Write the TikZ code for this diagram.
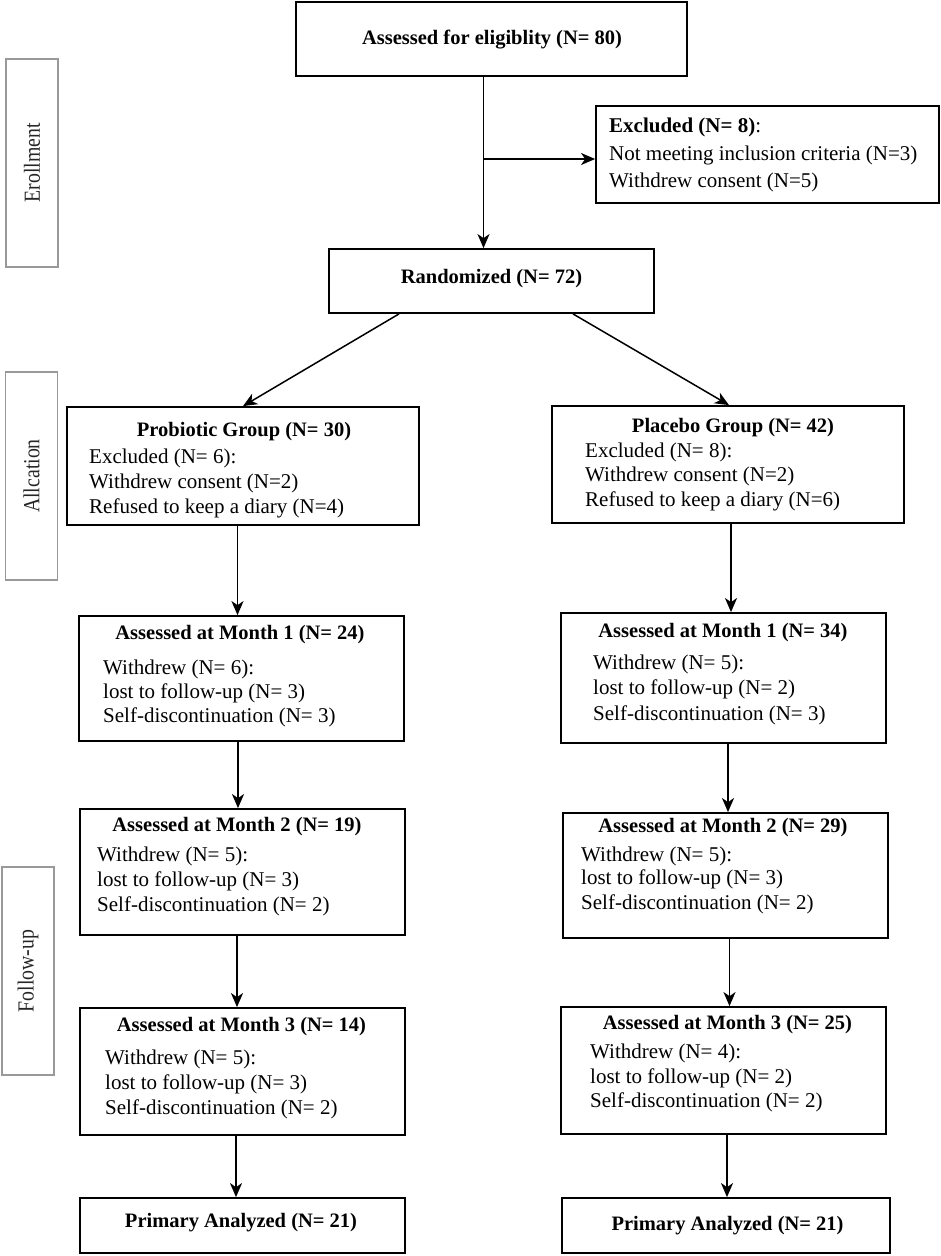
\documentclass[tikz,border=0pt]{standalone}
\usepackage{fontspec}
\setmainfont{Liberation Serif}
\usetikzlibrary{arrows.meta}
\newcommand{\sidelab}[1]{\scalebox{0.86}[1]{#1}}
\begin{document}
\begin{tikzpicture}[x=1pt,y=-1pt,
  box/.style={draw=black,line width=1.8pt,inner sep=0pt,fill=white},
  side/.style={draw=gray!80,line width=1.6pt,inner sep=0pt,minimum width=52pt},
  sidetxt/.style={rotate=90,inner sep=0pt,text=black!85,font=\fontsize{23}{26}\selectfont},
  ttl/.style={inner sep=0pt,font=\fontsize{20.5}{24}\selectfont\bfseries},
  txt/.style={inner sep=0pt,anchor=west,font=\fontsize{21}{24}\selectfont},
  arr/.style={line width=1.5pt,-{Stealth[length=14pt,width=12pt,inset=4pt]}},
  ln/.style={line width=1.5pt}]
\useasboundingbox (0,0) rectangle (941,1256);

% side labels
\node[side,minimum height=208pt] (sEnr) at (32,163) {};
\node[sidetxt] (tEnr) at (sEnr.center) {\sidelab{Erollment}};
\node[side,minimum height=208pt] (sAll) at (31.5,476) {};
\node[sidetxt] (tAll) at (sAll.center) {\sidelab{Allcation}};
\node[side,minimum height=208pt] (sFol) at (28,971) {};
\node[sidetxt] (tFol) at (sFol.center) {\sidelab{Follow-up}};

% boxes
\node[box,minimum width=391pt,minimum height=74pt] (top) at (491.5,39) {};
\node[ttl] (ttop) at (492,40) {Assessed for eligiblity (N= 80)};

\node[box,minimum width=343pt,minimum height=97pt] (excl) at (767.5,154.5) {};
\node[txt] (e1) at (609,127) {\textbf{Excluded (N= 8)}:};
\node[txt] (e2) at (609,155) {Not meeting inclusion criteria (N=3)};
\node[txt] (e3) at (609,182) {Withdrew consent (N=5)};

\node[box,minimum width=325pt,minimum height=64pt] (rand) at (491.5,281) {};
\node[ttl] (trand) at (491.5,279) {Randomized (N= 72)};

\node[box,minimum width=352pt,minimum height=118pt] (prob) at (243,466) {};
\node[ttl] (tprob) at (244,432) {Probiotic Group (N= 30)};
\node[txt] (p1) at (89,458) {Excluded (N= 6):};
\node[txt] (p2) at (89,483) {Withdrew consent (N=2)};
\node[txt] (p3) at (89,508) {Refused to keep a diary (N=4)};

\node[box,minimum width=352pt,minimum height=117pt] (plac) at (728,464.5) {};
\node[ttl] (tplac) at (733,428) {Placebo Group (N= 42)};
\node[txt] (q1) at (585,452) {Excluded (N= 8):};
\node[txt] (q2) at (585,476) {Withdrew consent (N=2)};
\node[txt] (q3) at (585,501) {Refused to keep a diary (N=6)};

% month 1
\node[box,minimum width=325pt,minimum height=125pt] (m1L) at (241.5,678.5) {};
\node[ttl] (tm1L) at (240,635) {Assessed at Month 1 (N= 24)};
\node[txt] (a1) at (103,669) {Withdrew (N= 6):};
\node[txt] (a2) at (103,693) {lost to follow-up (N= 3)};
\node[txt] (a3) at (103,717) {Self-discontinuation (N= 3)};

\node[box,minimum width=325pt,minimum height=130pt] (m1R) at (723.5,678) {};
\node[ttl] (tm1R) at (723,633) {Assessed at Month 1 (N= 34)};
\node[txt] (b1) at (593,664) {Withdrew (N= 5):};
\node[txt] (b2) at (593,689) {lost to follow-up (N= 2)};
\node[txt] (b3) at (593,715) {Self-discontinuation (N= 3)};

% month 2
\node[box,minimum width=325pt,minimum height=126pt] (m2L) at (242.5,872) {};
\node[ttl] (tm2L) at (237,827) {Assessed at Month 2 (N= 19)};
\node[txt] (c1) at (97,856) {Withdrew (N= 5):};
\node[txt] (c2) at (97,881) {lost to follow-up (N= 3)};
\node[txt] (c3) at (97,906) {Self-discontinuation (N= 2)};

\node[box,minimum width=325pt,minimum height=125pt] (m2R) at (725.5,875.5) {};
\node[ttl] (tm2R) at (723,828) {Assessed at Month 2 (N= 29)};
\node[txt] (d1) at (581,856) {Withdrew (N= 5):};
\node[txt] (d2) at (581,879) {lost to follow-up (N= 3)};
\node[txt] (d3) at (581,904) {Self-discontinuation (N= 2)};

% month 3
\node[box,minimum width=325pt,minimum height=127pt] (m3L) at (242.5,1071.5) {};
\node[ttl] (tm3L) at (241.5,1027) {Assessed at Month 3 (N= 14)};
\node[txt] (f1) at (105,1059) {Withdrew (N= 5):};
\node[txt] (f2) at (105,1084) {lost to follow-up (N= 3)};
\node[txt] (f3) at (105,1109) {Self-discontinuation (N= 2)};

\node[box,minimum width=325pt,minimum height=127pt] (m3R) at (723.5,1070.5) {};
\node[ttl] (tm3R) at (727.5,1025) {Assessed at Month 3 (N= 25)};
\node[txt] (g1) at (590,1053) {Withdrew (N= 4):};
\node[txt] (g2) at (590,1078) {lost to follow-up (N= 2)};
\node[txt] (g3) at (590,1102) {Self-discontinuation (N= 2)};

% primary analyzed
\node[box,minimum width=325pt,minimum height=55pt] (pL) at (242.5,1225.5) {};
\node[ttl] (tpL) at (241,1223) {Primary Analyzed (N= 21)};
\node[box,minimum width=328pt,minimum height=55pt] (pR) at (726,1225.5) {};
\node[ttl] (tpR) at (727.5,1226) {Primary Analyzed (N= 21)};

% connectors
\coordinate (cx0) at (483.5,0);
\coordinate (jn) at (483.5,159);
\draw[arr] (cx0 |- top.south) -- (cx0 |- rand.north);
\draw[arr] (jn) -- (jn -| excl.west);

\coordinate (rl) at (399,0);
\coordinate (rr) at (573,0);
\coordinate (pl) at (243,0);
\coordinate (pr) at (729,0);
\draw[arr] (rl |- rand.south) -- (pl |- prob.north);
\draw[arr] (rr |- rand.south) -- (pr |- plac.north);

\coordinate (xl1) at (237.5,0);
\coordinate (xr1) at (731,0);
\draw[arr] (xl1 |- prob.south) -- (xl1 |- m1L.north);
\draw[arr] (xr1 |- plac.south) -- (xr1 |- m1R.north);

\coordinate (xl2) at (238,0);
\coordinate (xr2) at (728,0);
\draw[arr] (xl2 |- m1L.south) -- (xl2 |- m2L.north);
\draw[arr] (xr2 |- m1R.south) -- (xr2 |- m2R.north);

\coordinate (xl3) at (237,0);
\coordinate (xr3) at (729.5,0);
\draw[arr] (xl3 |- m2L.south) -- (xl3 |- m3L.north);
\draw[arr] (xr3 |- m2R.south) -- (xr3 |- m3R.north);

\coordinate (xl4) at (236,0);
\coordinate (xr4) at (727,0);
\draw[arr] (xl4 |- m3L.south) -- (xl4 |- pL.north);
\draw[arr] (xr4 |- m3R.south) -- (xr4 |- pR.north);
\end{tikzpicture}
\end{document}
